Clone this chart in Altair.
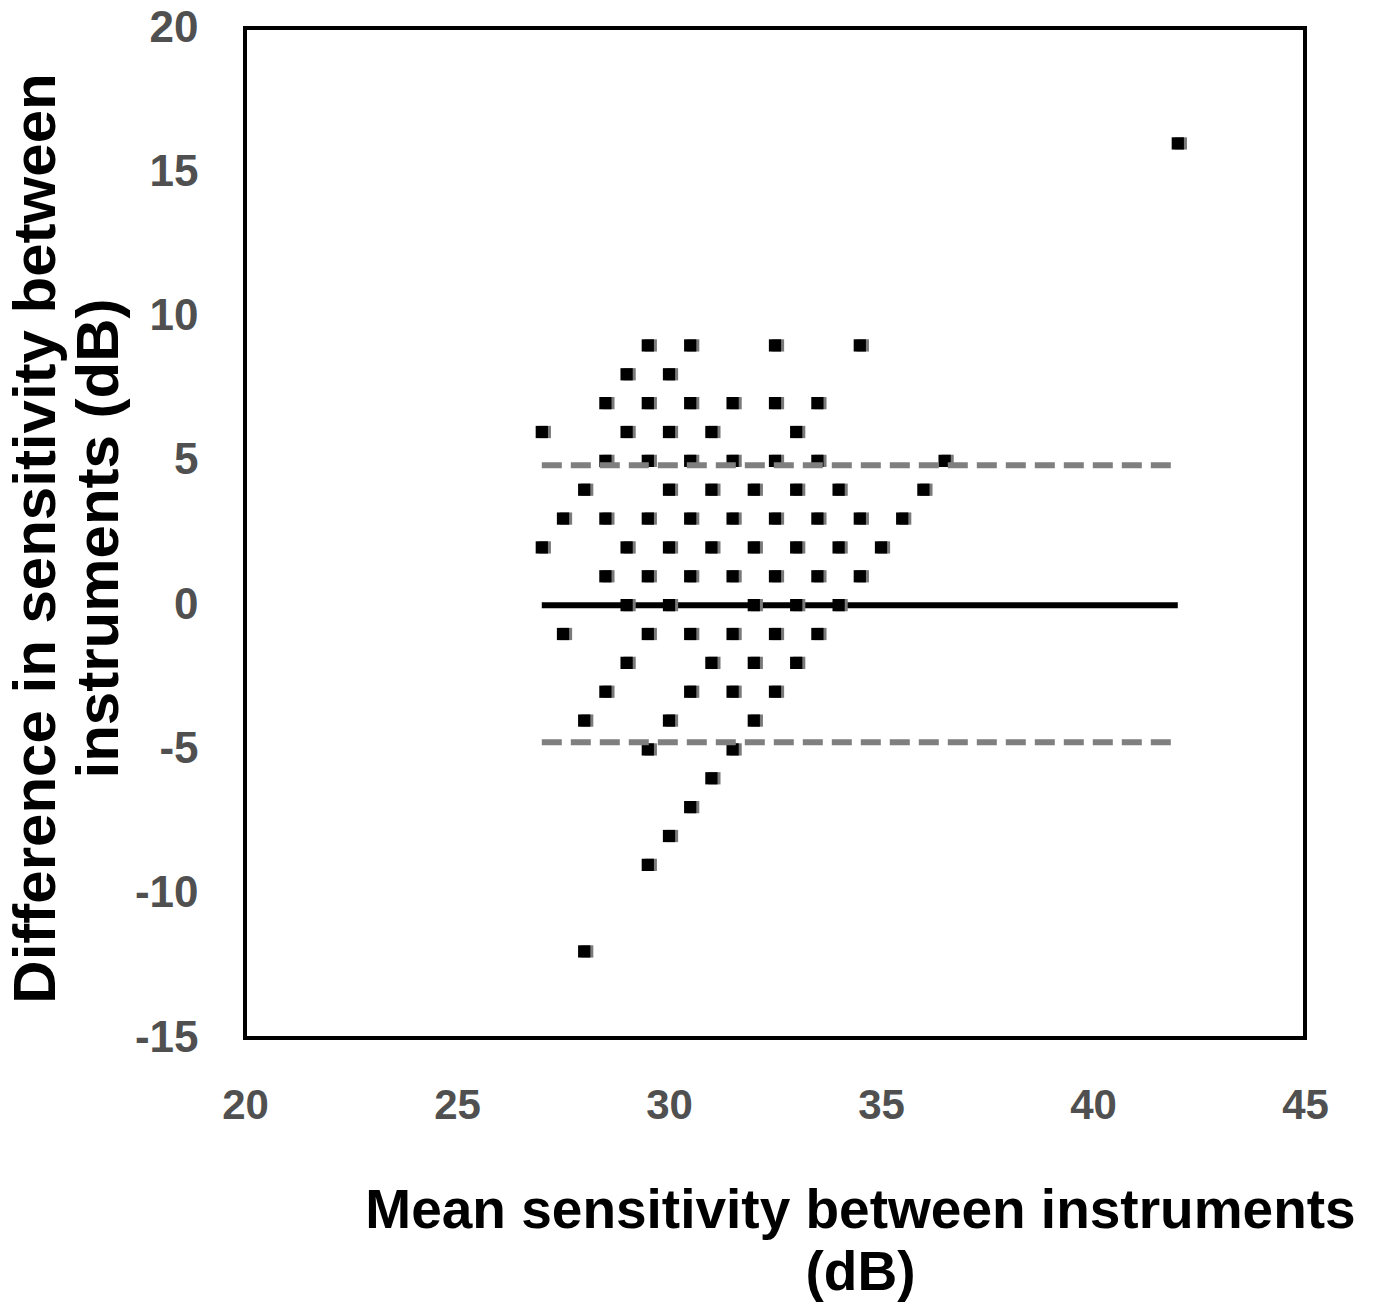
import altair as alt
import pandas as pd

# Bland-Altman points (mean sensitivity, difference)
mean_vals = [
    42.0,
    29.5, 30.5, 32.5, 34.5,
    29.0, 30.0,
    28.5, 29.5, 30.5, 31.5, 32.5, 33.5,
    27.0, 29.0, 30.0, 31.0, 33.0,
    28.5, 29.5, 30.5, 31.5, 32.5, 33.5, 36.5,
    28.0, 30.0, 31.0, 32.0, 33.0, 34.0, 36.0,
    27.5, 28.5, 29.5, 30.5, 31.5, 32.5, 33.5, 34.5, 35.5,
    27.0, 29.0, 30.0, 31.0, 32.0, 33.0, 34.0, 35.0,
    28.5, 29.5, 30.5, 31.5, 32.5, 33.5, 34.5,
    29.0, 30.0, 32.0, 33.0, 34.0,
    27.5, 29.5, 30.5, 31.5, 32.5, 33.5,
    29.0, 31.0, 32.0, 33.0,
    28.5, 30.5, 31.5, 32.5,
    28.0, 30.0, 32.0,
    29.5, 31.5,
    31.0,
    30.5,
    30.0,
    29.5,
    28.0,
]
diff_vals = (
    [16] * 1 + [9] * 4 + [8] * 2 + [7] * 6 + [6] * 5 + [5] * 7 + [4] * 7
    + [3] * 9 + [2] * 8 + [1] * 7 + [0] * 5 + [-1] * 6 + [-2] * 4 + [-3] * 4
    + [-4] * 3 + [-5] * 2 + [-6] + [-7] + [-8] + [-9] + [-12]
)

bias = [0.0]
loa = [4.85, -4.75]
line_start = [27.0]
line_end = [42.0]

x_ticks = [20, 25, 30, 35, 40, 45]
y_ticks = [-15, -10, -5, 0, 5, 10, 15, 20]

pts = pd.DataFrame({"m": mean_vals, "d": diff_vals})
bias_df = pd.DataFrame({"y": bias, "x1": line_start, "x2": line_end})
loa_df = pd.DataFrame({"y": loa, "x1": line_start * 2, "x2": line_end * 2})

FONT = "Liberation Sans"
LABEL_EXPR = "datum.value < 0 ? '-' + abs(datum.value) : '' + datum.value"

xscale = alt.Scale(domain=[20, 45], nice=False, zero=False)
yscale = alt.Scale(domain=[-15, 20], nice=False, zero=False)

xaxis = alt.Axis(
    values=x_ticks, grid=False, ticks=False, domain=False, labelFlush=False,
    labelFont=FONT, labelFontSize=42, labelFontWeight="bold", labelColor="#505050",
    labelPadding=47, labelExpr=LABEL_EXPR,
    title=["Mean sensitivity between instruments", "(dB)"],
    titleFont=FONT, titleFontSize=55, titleFontWeight="bold", titleColor="black",
    titleX=615, titleY=146, titleBaseline="top", titleAlign="center",
    titleLineHeight=62,
)
yaxis = alt.Axis(
    values=y_ticks, grid=False, ticks=False, domain=False, labelFlush=False,
    labelFont=FONT, labelFontSize=44, labelFontWeight="bold", labelColor="#505050",
    labelPadding=47, labelExpr=LABEL_EXPR,
    title=["Difference in sensitivity between", "instruments (dB)"],
    titleFont=FONT, titleFontSize=60, titleFontWeight="bold", titleColor="black",
    titleAngle=270, titleX=-238, titleY=510, titleBaseline="top", titleAlign="center",
    titleLineHeight=63,
)

bias_line = alt.Chart(bias_df).mark_rule(color="black", strokeWidth=6).encode(
    x=alt.X("x1:Q", scale=xscale, axis=xaxis),
    x2="x2:Q",
    y=alt.Y("y:Q", scale=yscale, axis=yaxis),
)

shadow = alt.Chart(pts).mark_square(
    color="#7a7a7a", size=150, opacity=1, xOffset=3
).encode(
    x=alt.X("m:Q", scale=xscale),
    y=alt.Y("d:Q", scale=yscale),
)
points = alt.Chart(pts).mark_square(color="black", size=150, opacity=1).encode(
    x=alt.X("m:Q", scale=xscale),
    y=alt.Y("d:Q", scale=yscale),
)

loa_lines = alt.Chart(loa_df).mark_rule(
    color="#7f7f7f", strokeWidth=6, strokeDash=[20, 9]
).encode(
    x=alt.X("x1:Q", scale=xscale),
    x2="x2:Q",
    y=alt.Y("y:Q", scale=yscale),
)

chart = (
    alt.layer(bias_line, shadow, points, loa_lines)
    .properties(
        width=1060,
        height=1010,
        autosize=alt.AutoSizeParams(type="none"),
        padding={"left": 245, "top": 28, "right": 70, "bottom": 265},
        background="white",
    )
    .configure_view(stroke="black", strokeWidth=4)
)

chart.save("out.html", embed_options={"renderer": "svg", "actions": False})
